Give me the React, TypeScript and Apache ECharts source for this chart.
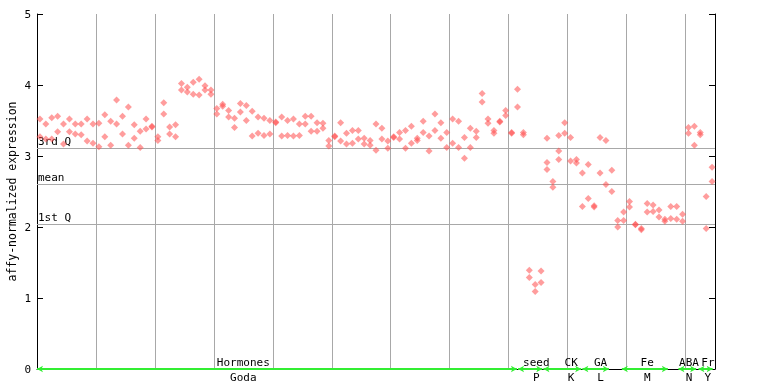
import React, { useEffect, useRef } from "react";
import * as echarts from "echarts";

const N = 115;
const rep1 = [
  3.52, 3.45, 3.54, 3.56, 3.45, 3.52, 3.45, 3.45, 3.52, 3.45,
  3.46, 3.58, 3.49, 3.79, 3.56, 3.69, 3.44, 3.35, 3.52, 3.42,
  3.27, 3.75, 3.41, 3.44, 4.02, 3.97, 4.04, 4.08, 3.99, 3.93,
  3.67, 3.73, 3.64, 3.53, 3.74, 3.71, 3.63, 3.55, 3.53, 3.50,
  3.48, 3.55, 3.50, 3.52, 3.45, 3.56, 3.56, 3.47, 3.46, 3.22,
  3.28, 3.47, 3.32, 3.36, 3.36, 3.25, 3.22, 3.45, 3.39, 3.21,
  3.27, 3.33, 3.36, 3.42, 3.25, 3.49, 3.28, 3.59, 3.47, 3.33,
  3.52, 3.49, 3.26, 3.39, 3.35, 3.88, 3.52, 3.36, 3.49, 3.64,
  3.33, 3.94, 3.33, 1.39, 1.19, 1.38, 3.25, 2.64, 3.29, 3.47,
  3.26, 2.95, 2.76, 2.88, 2.30, 3.26, 3.22, 2.80, 2.09, 2.21,
  2.36, 2.04, 1.98, 2.33, 2.31, 2.24, 2.11, 2.29, 2.29, 2.18,
  3.40, 3.42, 3.33, 2.43, 2.84,
];
const rep2 = [
  3.27, 3.24, 3.24, 3.34, 3.17, 3.34, 3.31, 3.30, 3.21, 3.18,
  3.13, 3.27, 3.15, 3.45, 3.31, 3.15, 3.25, 3.12, 3.38, 3.41,
  3.22, 3.59, 3.31, 3.27, 3.93, 3.90, 3.87, 3.86, 3.93, 3.87,
  3.59, 3.70, 3.55, 3.40, 3.62, 3.50, 3.28, 3.32, 3.29, 3.31,
  3.47, 3.28, 3.29, 3.28, 3.29, 3.45, 3.35, 3.35, 3.39, 3.14,
  3.27, 3.21, 3.17, 3.18, 3.24, 3.17, 3.15, 3.08, 3.24, 3.11,
  3.26, 3.24, 3.11, 3.18, 3.22, 3.33, 3.07, 3.36, 3.25, 3.12,
  3.18, 3.12, 2.97, 3.12, 3.26, 3.76, 3.46, 3.32, 3.48, 3.57,
  3.32, 3.69, 3.30, 1.29, 1.09, 1.22, 2.91, 2.56, 3.07, 3.32,
  2.93, 2.90, 2.29, 2.40, 2.28, 2.76, 2.60, 2.50, 2.00, 2.09,
  2.28, 2.03, 1.96, 2.21, 2.22, 2.14, 2.08, 2.12, 2.11, 2.08,
  3.32, 3.15, 3.30, 1.98, 2.64,
];
const extraIdx = [86, 88];
const extraVal = [2.81, 2.95];

const quartileNames = ["3rd Q", "mean", "1st Q"];
const quartileValues = [3.11, 2.6, 2.04];

const groupNames = ["Hormones", "seed", "CK", "GA", "Fe", "ABA", "Fr"];
const groupCodes = ["Goda", "P", "K", "L", "M", "N", "Y"];
const groupStart = [0, 81.6, 85.9, 92.5, 99.2, 108.8, 112.2];
const groupEnd = [81.4, 85.7, 92.3, 97.0, 107.0, 111.8, 114.6];
const groupLabelAt = [35.0, 84.7, 90.6, 95.6, 103.5, 110.6, 113.8];

const FONT = "'DejaVu Sans Mono', monospace";

export default function App() {
  const ref = useRef<HTMLDivElement>(null);
  useEffect(() => {
    const chart = echarts.init(ref.current!, null, { renderer: "svg" });
    const points: number[][] = [];
    for (let i = 0; i < N; i++) {
      points.push([i + 0.5, rep1[i]]);
      points.push([i + 0.5, rep2[i]]);
    }
    extraIdx.forEach((i, k) => points.push([i + 0.5, extraVal[k]]));

    const quartileLines = quartileValues.map((v, k) => ({
      yAxis: v,
      name: quartileNames[k],
      symbol: "none",
      lineStyle: { color: "#a8a8a8", width: 1, type: "solid" },
      label: {
        show: true,
        position: "insideStartTop",
        formatter: quartileNames[k],
        color: "#000",
        fontFamily: FONT,
        fontSize: 11,
        distance: [1, 1],
      },
    }));
    const greenLines = groupStart.map((s, k) => [
      { coord: [s, 0], symbol: "arrow", symbolSize: [5, 6] },
      { coord: [groupEnd[k], 0], symbol: "arrow", symbolSize: [5, 6] },
    ]);

    chart.setOption({
      animation: false,
      grid: { left: 37, right: 53, top: 14, bottom: 15, outerBoundsMode: "none", containLabel: false },
      xAxis: {
        type: "value",
        min: 0,
        max: N,
        interval: 10,
        axisLine: { show: true, lineStyle: { color: "#000" } },
        axisTick: { show: false },
        axisLabel: { show: false },
        splitLine: { show: true, lineStyle: { color: "#a8a8a8", width: 1 } },
      },
      yAxis: [
        {
          type: "value",
          min: 0,
          max: 5,
          interval: 1,
          position: "left",
          name: "affy-normalized expression",
          nameLocation: "middle",
          nameRotate: 90,
          nameGap: 19,
          nameMoveOverlap: false,
          nameTextStyle: { fontFamily: FONT, fontSize: 11.5, color: "#000" },
          axisLine: { show: true, lineStyle: { color: "#000", width: 1 } },
          axisTick: { show: true, inside: true, length: 6, lineStyle: { color: "#000" } },
          axisLabel: { show: true, margin: 6, fontFamily: FONT, fontSize: 11, color: "#000" },
          splitLine: { show: false },
        },
        {
          type: "value",
          min: 0,
          max: 5,
          interval: 1,
          position: "right",
          axisLine: { show: true, lineStyle: { color: "#000", width: 1 } },
          axisTick: { show: true, inside: true, length: 6, lineStyle: { color: "#000" } },
          axisLabel: { show: false },
          splitLine: { show: false },
        },
      ],
      series: [
        {
          type: "scatter",
          data: points,
          symbol: "diamond",
          symbolSize: 7,
          clip: false,
          itemStyle: { color: "#ff4d4d", opacity: 0.55 },
          z: 5,
          markLine: {
            silent: true,
            symbol: ["none", "none"],
            animation: false,
            data: [...quartileLines, ...greenLines.map((pair) =>
              pair.map((p) => ({ ...p, lineStyle: { color: "#33ee33", width: 2, type: "solid" }, label: { show: false } }))
            )],
          },
        },
      ],
    });

    const g: any[] = [];
    groupNames.forEach((name, k) => {
      const px = chart.convertToPixel({ xAxisIndex: 0 }, groupLabelAt[k]) as number;
      g.push({
        type: "text",
        x: px,
        y: 362,
        style: { text: name, textAlign: "center", textVerticalAlign: "middle", font: `11px ${FONT}`, fill: "#000" },
      });
      g.push({
        type: "text",
        x: px,
        y: 377,
        style: { text: groupCodes[k], textAlign: "center", textVerticalAlign: "middle", font: `11px ${FONT}`, fill: "#000" },
      });
    });
    chart.setOption({ graphic: g });

    return () => chart.dispose();
  }, []);
  return <div ref={ref} style={{ position: "fixed", left: 0, top: 0, width: 768, height: 384 }} />;
}
